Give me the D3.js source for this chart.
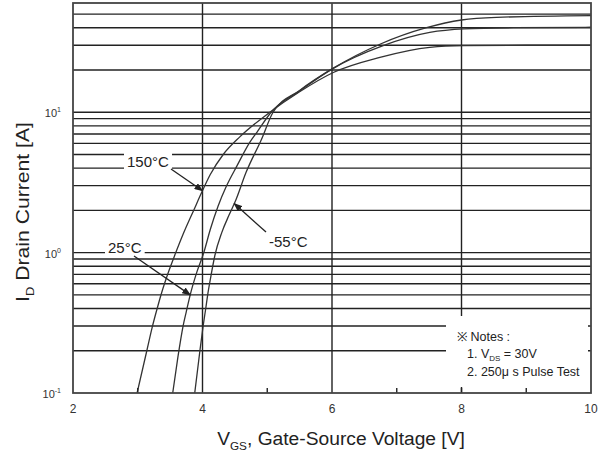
<!DOCTYPE html>
<html>
<head>
<meta charset="utf-8">
<script src="https://cdn.jsdelivr.net/npm/d3@7"></script>
<style>
  html, body { margin: 0; padding: 0; background: #fff; }
  svg { display: block; font-family: "Liberation Sans", Arial, sans-serif; }
</style>
</head>
<body>
<div id="chart"></div>
<script>
/* Transfer characteristics: drain current vs gate-source voltage
   at three junction temperatures */

// 150°C curve
const vgs150 = [2.99, 3.14, 3.22, 3.30, 3.37, 3.48, 3.58, 3.70, 3.87, 3.99, 4.12, 4.32, 4.58, 5.04, 5.50, 6.02, 6.74, 7.51, 8.04, 9.00, 10.0];
const id150  = [0.10, 0.20, 0.29, 0.40, 0.52, 0.74, 0.98, 1.35, 2.03, 2.70, 3.60, 5.00, 6.70, 10.0, 14.0, 19.2, 24.6, 29.0, 29.8, 30.0, 30.0];

// 25°C curve
const vgs25 = [3.54, 3.62, 3.70, 3.75, 3.81, 3.91, 4.02, 4.12, 4.24, 4.37, 4.53, 4.73, 4.84, 5.06, 5.50, 6.00, 6.79, 7.51, 8.04, 8.80, 10.0];
const id25  = [0.10, 0.18, 0.30, 0.38, 0.50, 0.72, 1.00, 1.46, 2.14, 2.98, 4.13, 6.10, 7.20, 10.0, 14.2, 20.3, 29.8, 37.0, 39.2, 40.0, 40.3];

// -55°C curve
const vgsM55 = [3.88, 3.96, 4.01, 4.05, 4.08, 4.13, 4.19, 4.30, 4.41, 4.52, 4.67, 4.91, 5.09, 5.50, 6.02, 6.74, 7.46, 8.00, 8.54, 10.0];
const idM55  = [0.10, 0.20, 0.30, 0.40, 0.50, 0.68, 0.95, 1.40, 1.85, 2.40, 3.70, 6.40, 10.0, 14.3, 20.6, 30.5, 40.0, 45.4, 47.4, 48.7];

const curveLabels = ["150°C", "25°C", "-55°C"];

// axis ticks
const xTicks = [2, 4, 6, 8, 10];
const xGridTicks = [4, 6, 8];
const xMinorTicks = [3, 5, 7, 8, 9];
const yTicks = [0.1, 1, 10];
const yTickExp = ["-1", "0", "1"];

/* Set the dimensions and margins of the graph */
const width = 614, height = 460;
const margins = {top: 3, right: 23, bottom: 67, left: 73};

const svg = d3.select("#chart")
  .append("svg")
  .attr("width", width)
  .attr("height", height);

const xScale = d3.scaleLinear()
  .domain([2, 10])
  .range([margins.left, width - margins.right]);

const yScale = d3.scaleLog()
  .domain([0.1, 60])
  .range([height - margins.bottom, margins.top]);

const x0 = margins.left, x1 = width - margins.right;
const y0 = height - margins.bottom, y1 = margins.top;

/* Grid lines */
const grid = svg.append("g")
  .attr("stroke", "#222")
  .attr("stroke-width", 1.4);

grid.selectAll("line.h")
  .data(yScale.ticks().filter(v => v > 0.1 * 1.001 && v < 59))
  .join("line")
    .attr("class", "h")
    .attr("x1", x0).attr("x2", x1)
    .attr("y1", d => yScale(d)).attr("y2", d => yScale(d));

grid.selectAll("line.v")
  .data(xGridTicks)
  .join("line")
    .attr("class", "v")
    .attr("x1", d => xScale(d)).attr("x2", d => xScale(d))
    .attr("y1", y0).attr("y2", y1);

/* Curves */
svg.append("clipPath").attr("id", "plot")
  .append("rect")
  .attr("x", x0).attr("y", y1)
  .attr("width", x1 - x0).attr("height", y0 - y1);

const series = [
  {name: curveLabels[0], v: vgs150, i: id150},
  {name: curveLabels[1], v: vgs25, i: id25},
  {name: curveLabels[2], v: vgsM55, i: idM55}
];

const line = d3.line()
  .curve(d3.curveMonotoneX)
  .x(d => xScale(d[0]))
  .y(d => yScale(d[1]));

svg.append("g")
  .attr("clip-path", "url(#plot)")
  .selectAll("path")
  .data(series)
  .join("path")
    .attr("d", s => line(s.v.map((v, k) => [v, s.i[k]])))
    .attr("fill", "none")
    .attr("stroke", "#333")
    .attr("stroke-width", 1.3);

/* Notes box (covers the grid in the lower right corner) */
svg.append("rect")
  .attr("x", 446).attr("y", 316)
  .attr("width", x1 - 446 - 3).attr("height", 71)
  .attr("fill", "#fff");

const notes = svg.append("text")
  .attr("font-size", 12.5)
  .attr("fill", "#222");
notes.append("tspan").attr("x", 457).attr("y", 341).text("※ Notes :");
const n1 = notes.append("tspan").attr("x", 467).attr("y", 358);
n1.append("tspan").text("1. V");
n1.append("tspan").attr("font-size", 8).attr("dy", 3).text("DS");
n1.append("tspan").attr("dy", -3).text(" = 30V");
notes.append("tspan").attr("x", 467).attr("y", 376).text("2. 250μ s Pulse Test");

/* Frame and small ticks on the bottom edge */
svg.append("g")
  .attr("stroke", "#222")
  .attr("stroke-width", 1.4)
  .selectAll("line")
  .data(xMinorTicks)
  .join("line")
    .attr("x1", d => xScale(d)).attr("x2", d => xScale(d))
    .attr("y1", y0).attr("y2", y0 - 5);

svg.append("rect")
  .attr("x", x0).attr("y", y1)
  .attr("width", x1 - x0).attr("height", y0 - y1)
  .attr("fill", "none")
  .attr("stroke", "#444")
  .attr("stroke-width", 1.8);

/* Tick labels */
svg.append("g")
  .selectAll("text")
  .data(xTicks)
  .join("text")
    .attr("x", d => xScale(d))
    .attr("y", y0 + 20)
    .attr("text-anchor", "middle")
    .attr("font-size", 12)
    .attr("fill", "#333")
    .text(d => d);

const yLab = svg.append("g")
  .selectAll("text")
  .data(yTicks)
  .join("text")
    .attr("x", x0 - 12)
    .attr("y", d => yScale(d) + 5)
    .attr("text-anchor", "end")
    .attr("font-size", 11)
    .attr("fill", "#333");
yLab.append("tspan").text("10");
yLab.append("tspan")
  .attr("font-size", 7)
  .attr("dy", -5)
  .text((d, k) => yTickExp[k]);

/* Curve labels with leader arrows */
svg.append("defs").append("marker")
  .attr("id", "arrow")
  .attr("markerUnits", "userSpaceOnUse")
  .attr("markerWidth", 9).attr("markerHeight", 7)
  .attr("refX", 8).attr("refY", 3.5)
  .attr("orient", "auto")
  .append("path")
  .attr("d", "M0,0L9,3.5L0,7z")
  .attr("fill", "#222");

// current on a curve at a given voltage (log interpolation between read points)
const currentAt = (s, v) => {
  const k = Math.max(1, d3.bisectLeft(s.v, v));
  const t = (v - s.v[k - 1]) / (s.v[k] - s.v[k - 1]);
  return Math.exp(Math.log(s.i[k - 1]) + t * (Math.log(s.i[k]) - Math.log(s.i[k - 1])));
};

const labels = [
  {s: series[0], tx: 127, ty: 167, lx: 171, ly: 169, v: 4.0},
  {s: series[1], tx: 108, ty: 253, lx: 134, ly: 256, v: 3.81},
  {s: series[2], tx: 269, ty: 247, lx: 266, ly: 232, v: 4.49}
];

labels.forEach(l => {
  const g = svg.append("g");
  const bg = g.append("rect").attr("fill", "#fff");
  const t = g.append("text")
    .attr("x", l.tx).attr("y", l.ty)
    .attr("font-size", 15)
    .attr("fill", "#222")
    .text(l.s.name);
  const b = t.node().getBBox();
  bg.attr("x", b.x - 3).attr("y", b.y)
    .attr("width", b.width + 6).attr("height", b.height);
  svg.append("line")
    .attr("x1", l.lx).attr("y1", l.ly)
    .attr("x2", xScale(l.v)).attr("y2", yScale(currentAt(l.s, l.v)))
    .attr("stroke", "#222")
    .attr("stroke-width", 1.3)
    .attr("marker-end", "url(#arrow)");
});

/* Axis titles, stretched to the width they have in the picture */
const fitWidth = (sel, target) => {
  const w = sel.node().getComputedTextLength();
  return target / w;
};

const xTitleG = svg.append("g");
const xTitle = xTitleG.append("text")
  .attr("text-anchor", "middle")
  .attr("font-size", 18)
  .attr("fill", "#222");
xTitle.append("tspan").text("V");
xTitle.append("tspan").attr("font-size", 11).attr("dy", 5).text("GS");
xTitle.append("tspan").attr("dy", -5).text(", Gate-Source Voltage [V]");
xTitleG.attr("transform", `translate(341, 445) scale(${fitWidth(xTitle, 248)}, 1)`);

const yTitleG = svg.append("g");
const yTitle = yTitleG.append("text")
  .attr("text-anchor", "middle")
  .attr("font-size", 18)
  .attr("fill", "#222");
yTitle.append("tspan").text("I");
yTitle.append("tspan").attr("font-size", 11).attr("dy", 5).text("D");
yTitle.append("tspan").attr("dy", -5).text("  Drain Current [A]");
yTitleG.attr("transform", `translate(29, 212) rotate(-90) scale(${fitWidth(yTitle, 180)}, 1)`);
</script>
</body>
</html>
